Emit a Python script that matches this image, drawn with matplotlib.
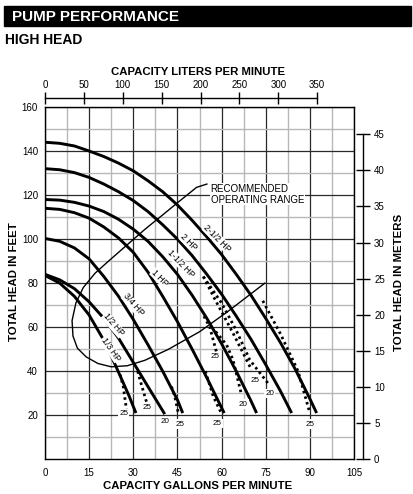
import matplotlib
matplotlib.use('Agg')
import numpy as np
import matplotlib.pyplot as plt
from matplotlib.patches import Rectangle

plt.rcParams['font.family'] = ['Liberation Sans', 'DejaVu Sans']

# pump curves, capacity (gpm) vs total head (ft)
hp_2_5_q = [0, 5, 10, 15, 20, 25, 30, 35, 40, 45, 50, 55, 60, 65, 70, 75, 80, 85, 90, 92.3]
hp_2_5_h = [144, 143.5, 142.3, 140, 137.5, 134.5, 131, 126.5, 121.5, 115.5, 108.5, 101,
            93, 84, 74.5, 64, 53, 41, 27.5, 21]
hp_2_q = [0, 5, 10, 15, 20, 25, 30, 35, 40, 45, 50, 55, 60, 65, 70, 75, 80, 83.8]
hp_2_h = [132, 131.5, 130.2, 128, 125, 121.5, 117.5, 112.5, 106.5, 100, 92.5, 84, 75,
          65, 54.5, 43, 31, 21]
hp_1_5_q = [0, 5, 10, 15, 20, 25, 30, 35, 40, 45, 50, 55, 60, 65, 70, 71.9]
hp_1_5_h = [118, 117.7, 116.7, 115, 112.5, 109, 104.5, 99, 92, 84, 74.5, 64, 52.5, 40,
            26.5, 21]
hp_1_q = [0, 5, 10, 15, 20, 25, 30, 35, 40, 45, 50, 55, 60.9]
hp_1_h = [114, 113.5, 112, 109.5, 105.5, 100.5, 94, 85, 74, 62.5, 50, 37, 21]
hp_34_q = [0, 5, 10, 15, 20, 25, 30, 35, 40, 45, 46.8]
hp_34_h = [100.3, 99, 96, 91, 83, 74, 63.5, 52, 40, 27, 21]
hp_12_q = [0, 5, 10, 15, 20, 25, 30, 35, 40.7]
hp_12_h = [84, 81.5, 77.5, 71.5, 64, 55, 44, 33, 20.5]
hp_13_q = [0, 5, 10, 15, 20, 23, 26, 28.5, 30.9]
hp_13_h = [83.5, 80, 74, 65.5, 54, 45.5, 36.5, 29, 21]

solid_q = [hp_2_5_q, hp_2_q, hp_1_5_q, hp_1_q, hp_34_q, hp_12_q, hp_13_q]
solid_h = [hp_2_5_h, hp_2_h, hp_1_5_h, hp_1_h, hp_34_h, hp_12_h, hp_13_h]

# dotted suction lift branches
dot_q = [
    [74, 80, 86, 90],
    [53.8, 58, 63.9, 70.2],
    [53.8, 60, 65, 69.6, 75.8],
    [54, 56, 58.3],
    [58, 61.7, 63.9, 66.8],
    [54.5, 57.2, 59.9],
    [43, 44.1, 45.3],
    [31.5, 32.3, 34.5],
    [25.5, 26.6, 27.7],
]
dot_h = [
    [72, 57, 40, 21],
    [83, 72, 57.3, 40.6],
    [83, 71, 58.5, 45.1, 34.5],
    [65, 60, 48.5],
    [58, 52, 45.1, 29.2],
    [40, 28.5, 21],
    [33, 28.5, 21],
    [40, 36, 26],
    [38.5, 33, 22.4],
]

# recommended operating range outline
range_q = [55, 51.5, 45, 40, 34, 28, 22, 17, 13, 10.5, 9.2, 9.5, 11, 14, 18, 22.5,
           28, 34, 42, 52.6, 62, 74.7]
range_h = [125, 123.5, 116.5, 111, 104.5, 97.5, 90.5, 84.5, 78, 71, 63, 56, 50.5,
           46.5, 43.5, 42, 42.5, 45, 50, 58, 67, 80]

hp_labels = ['2-1/2 HP', '2 HP', '1-1/2 HP', '1 HP', '3/4 HP', '1/2 HP', '1/3 HP']
hp_label_q = [58.6, 48.9, 46.2, 39, 30, 23.2, 22.3]
hp_label_h = [100.2, 98.5, 88.8, 82.4, 70.1, 61, 50]
hp_label_rot = [-45, -45, -46, -45, -49, -49, -55]

lift_labels = ['25', '25', '20', '25', '20', '25', '20', '25', '25', '25']
lift_q = [90.2, 71.3, 76.4, 57.7, 67.3, 58.5, 40.7, 45.8, 34.7, 26.8]
lift_h = [16, 36, 30, 46.6, 25.1, 16.4, 17.1, 16, 23.6, 20.9]

lpm_ticks = [0, 50, 100, 150, 200, 250, 300, 350]
m_ticks = [0, 5, 10, 15, 20, 25, 30, 35, 40, 45]

W, H = 413, 494
fig = plt.figure(figsize=(W / 100, H / 100), dpi=100)

# title bar
fig.patches.append(Rectangle((4 / W, 1 - 26.5 / H), 406.5 / W, 20 / H,
                             transform=fig.transFigure, color='black', zorder=0))
fig.text(12.5 / W, 1 - 17 / H, 'PUMP PERFORMANCE', color='white', fontsize=11,
         fontweight='bold', ha='left', va='center')
fig.text(5 / W, 1 - 40 / H, 'HIGH HEAD', color='black', fontsize=10,
         fontweight='bold', ha='left', va='center')

left, right, top, bot = 45, 354, 107, 459.3
ax = fig.add_axes([left / W, 1 - bot / H, (right - left) / W, (bot - top) / H])
ax.set_xlim(0, 105)
ax.set_ylim(0, 160)
ax.set_xticks(np.arange(0, 106, 15))
ax.set_yticks(np.arange(20, 161, 20))
ax.set_xticks(np.arange(7.5, 105, 15), minor=True)
ax.set_yticks(np.arange(10, 160, 20), minor=True)
ax.grid(which='major', color='#2a2a2a', lw=0.9, zorder=0)
ax.grid(which='minor', color='#b8b8b8', lw=1.0, zorder=0)
ax.set_axisbelow(True)
ax.tick_params(which='both', length=0, labelsize=7)
ax.tick_params(axis='x', pad=6)
ax.tick_params(axis='y', pad=5)
for s in ax.spines.values():
    s.set_linewidth(1.0)
    s.set_color('black')

for q, h in zip(solid_q, solid_h):
    ax.plot(q, h, color='black', lw=2.1, solid_capstyle='butt',
            solid_joinstyle='round', zorder=3)
for q, h in zip(dot_q, dot_h):
    ax.plot(q, h, color='black', lw=2.0, linestyle=(0, (0.9, 1.2)), zorder=3)
ax.plot(range_q, range_h, color='black', lw=1.0, zorder=3)

for t, q, h, r in zip(hp_labels, hp_label_q, hp_label_h, hp_label_rot):
    ax.text(q, h, t, fontsize=6.3, rotation=r, ha='center', va='center',
            rotation_mode='anchor', zorder=4,
            bbox=dict(facecolor='white', edgecolor='none', pad=0.3))
for t, q, h in zip(lift_labels, lift_q, lift_h):
    ax.text(q, h, t, fontsize=5.8, ha='center', va='center', zorder=4,
            bbox=dict(facecolor='white', edgecolor='none', pad=0.8))

ax.text(56.3, 120.3, 'RECOMMENDED\nOPERATING RANGE', fontsize=7, ha='left',
        va='center', linespacing=1.05, zorder=4,
        bbox=dict(facecolor='white', edgecolor='none', pad=0.6))

# liters per minute scale on top
aw = (right - left) / W
lpm_w = aw * (350 / 3.785) / 105
axt = fig.add_axes([left / W, 1 - 98 / H, lpm_w, 0.0001])
axt.set_xlim(0, 350)
axt.set_xticks(lpm_ticks)
axt.set_yticks([])
axt.xaxis.tick_top()
for s in ['left', 'right', 'bottom']:
    axt.spines[s].set_visible(False)
axt.spines['top'].set_linewidth(1.0)
axt.tick_params(axis='x', direction='inout', length=8, width=1.0, labelsize=7, pad=2)
axt.patch.set_visible(False)

# meters scale on right
ah = (bot - top) / H
m_h = ah * (45 * 3.28084) / 160
axr = fig.add_axes([363 / W - 0.0001, 1 - bot / H, 0.0001, m_h])
axr.set_ylim(0, 45)
axr.set_yticks(m_ticks)
axr.set_xticks([])
axr.yaxis.tick_right()
for s in ['left', 'top', 'bottom']:
    axr.spines[s].set_visible(False)
axr.spines['right'].set_linewidth(1.0)
axr.tick_params(axis='y', direction='inout', length=10, width=1.0, labelsize=7, pad=3)
axr.patch.set_visible(False)

fig.text(198 / W, 1 - 72 / H, 'CAPACITY LITERS PER MINUTE', fontsize=8.2,
         fontweight='bold', ha='center', va='center')
fig.text(198 / W, 1 - 486 / H, 'CAPACITY GALLONS PER MINUTE', fontsize=8.2,
         fontweight='bold', ha='center', va='center')
fig.text(14 / W, 1 - 282 / H, 'TOTAL HEAD IN FEET', fontsize=8.2,
         fontweight='bold', ha='center', va='center', rotation=90)
fig.text(398.5 / W, 1 - 282 / H, 'TOTAL HEAD IN METERS', fontsize=8.2,
         fontweight='bold', ha='center', va='center', rotation=90)

fig.savefig('out.png', dpi=100)
